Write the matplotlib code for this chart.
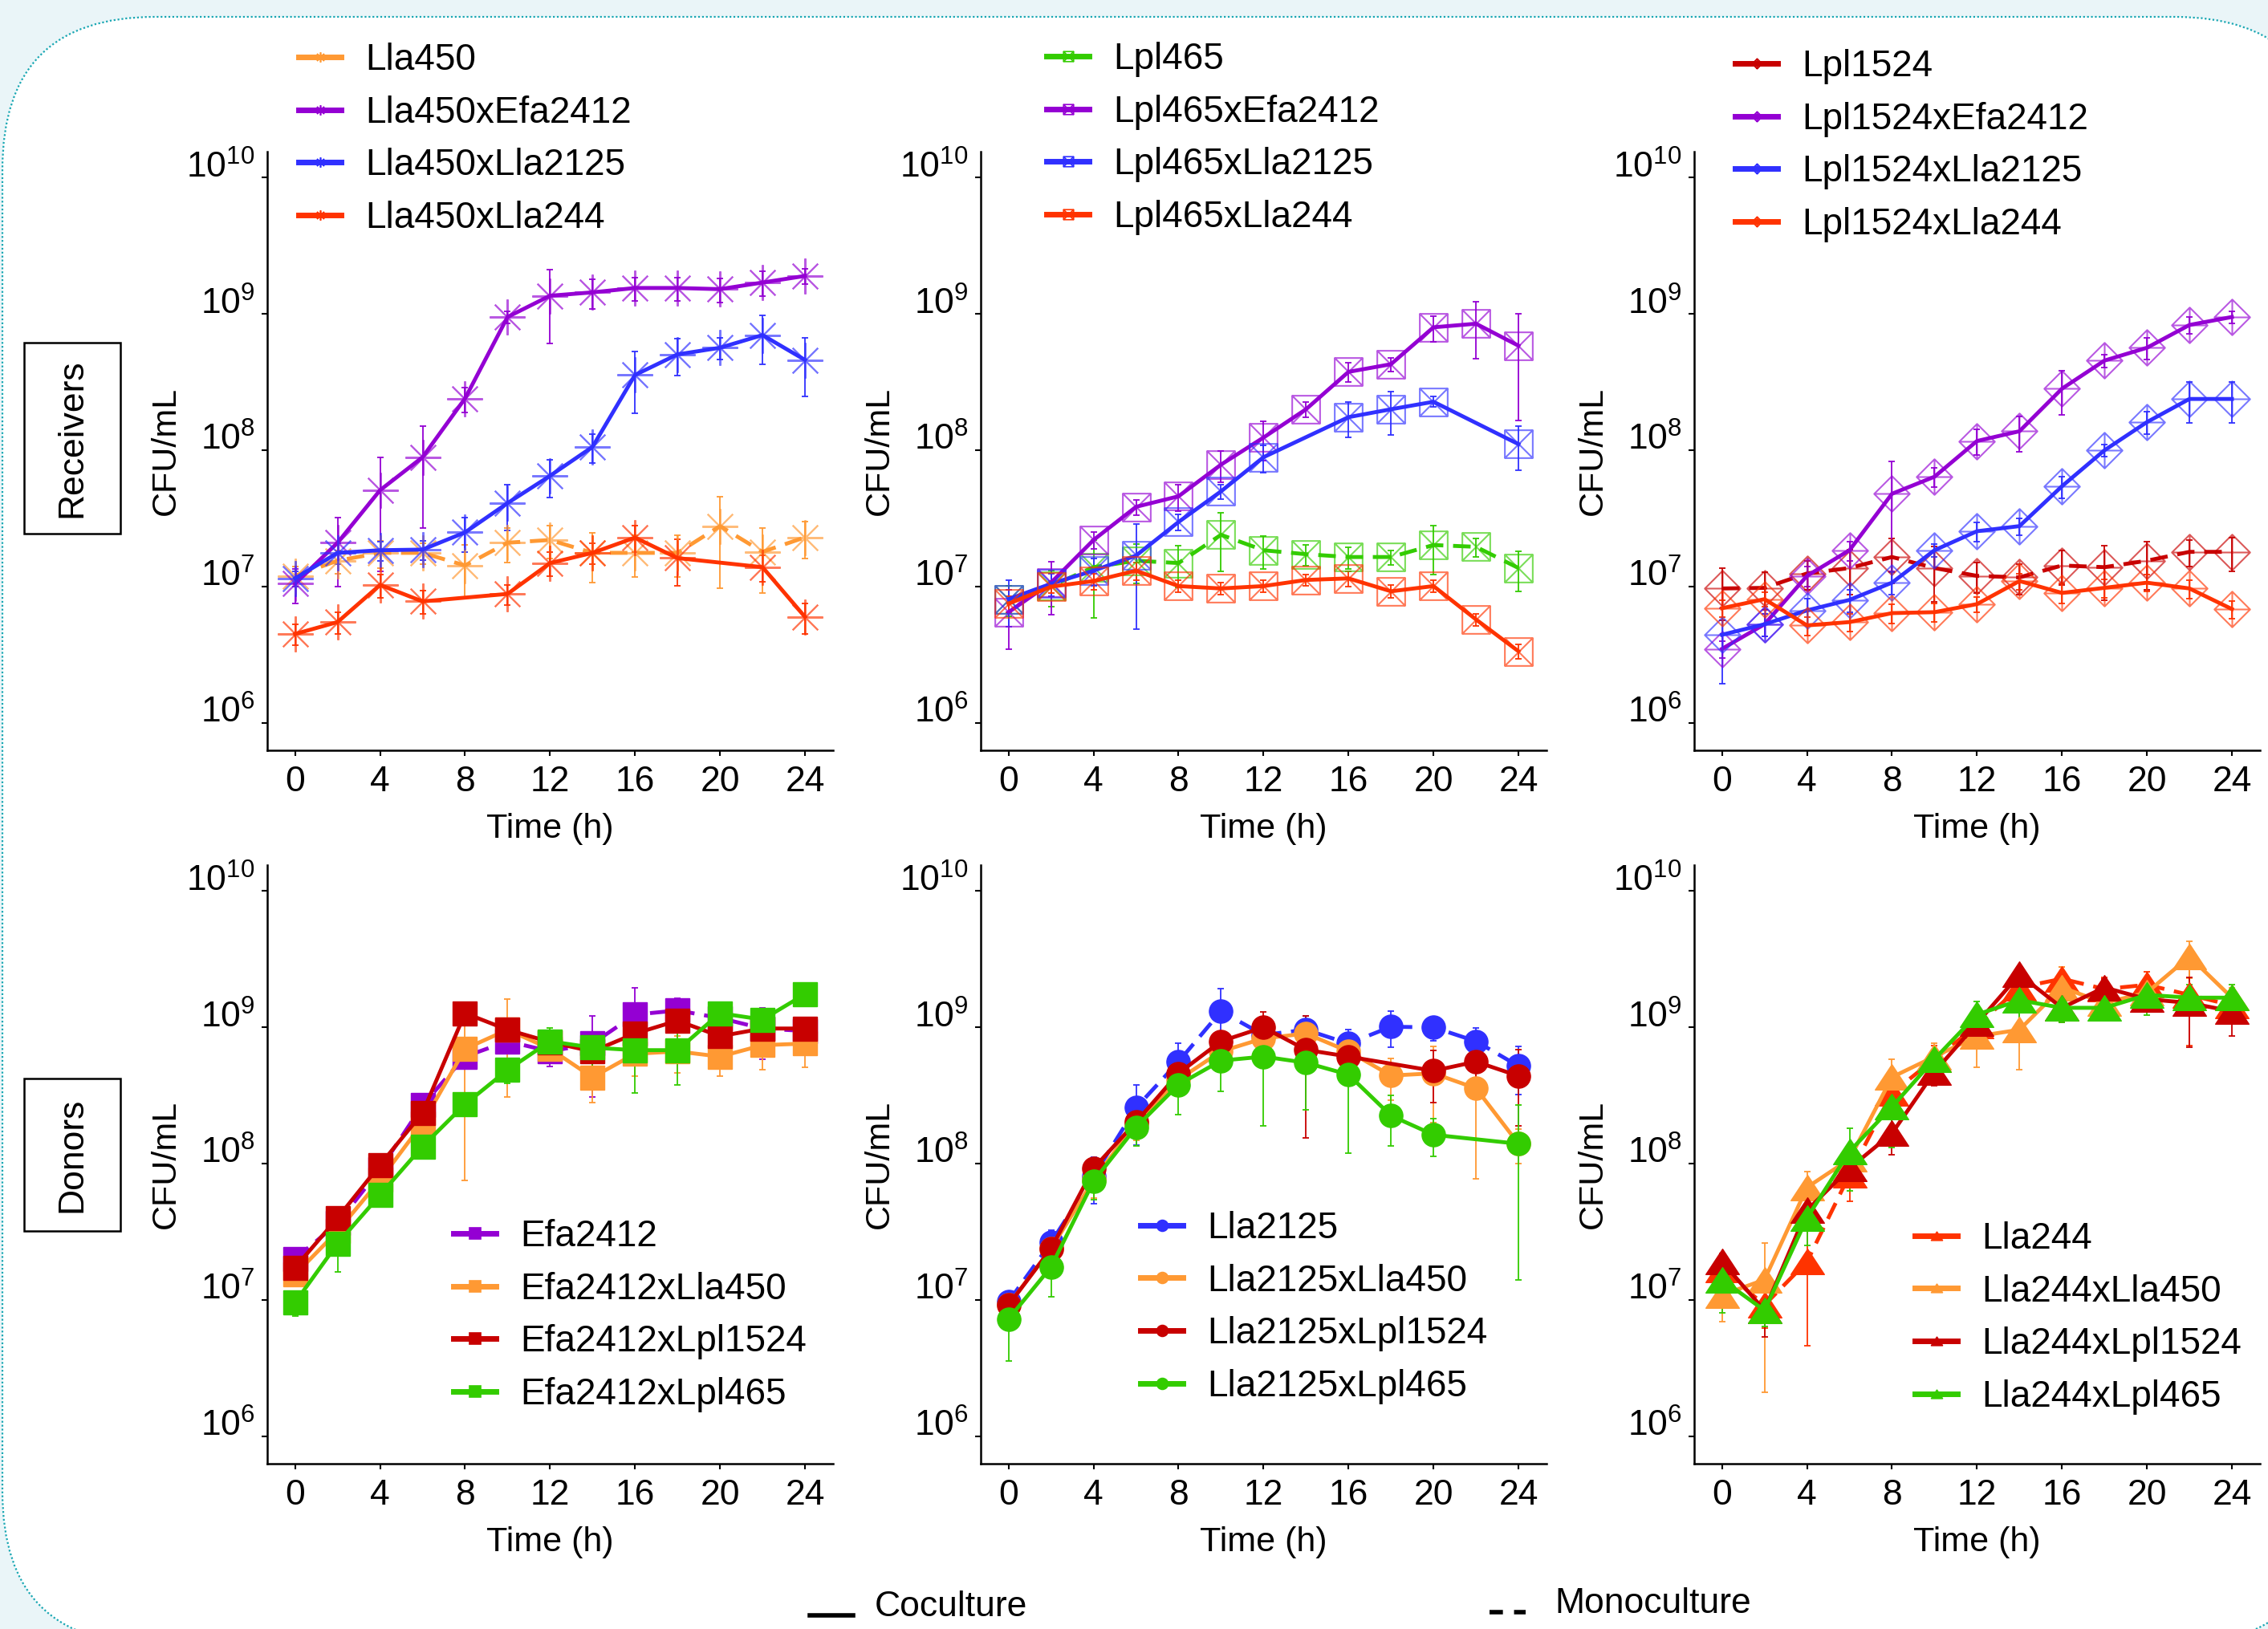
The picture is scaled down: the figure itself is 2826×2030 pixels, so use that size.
#
# Growth curves: receivers (top) and donors (bottom)
#
import numpy as np
import matplotlib
matplotlib.use("Agg")
import matplotlib.pyplot as plt
from matplotlib.path import Path
from matplotlib.lines import Line2D
from matplotlib.patches import FancyBboxPatch, Rectangle
from matplotlib.transforms import IdentityTransform
from matplotlib.colors import to_rgba
from matplotlib.ticker import NullLocator

plt.rcParams['font.family'] = ['Liberation Sans', 'DejaVu Sans']
plt.rcParams['mathtext.fontset'] = 'custom'
plt.rcParams['mathtext.rm'] = 'Liberation Sans'
plt.rcParams['mathtext.it'] = 'Liberation Sans:italic'
plt.rcParams['mathtext.bf'] = 'Liberation Sans:bold'

nan = np.nan

#===================
# Data (CFU/mL, mean and sd)
#===================
time_h = [0, 2, 4, 6, 8, 10, 12, 14, 16, 18, 20, 22, 24]
x_ticks = [0, 4, 8, 12, 16, 20, 24]
y_ticks = [1e6, 1e7, 1e8, 1e9, 1e10]
y_labels = [r'$10^{6}$', r'$10^{7}$', r'$10^{8}$', r'$10^{9}$', r'$10^{10}$']

# receivers: Lla450
lla450 = [1.2e7, 1.55e7, 1.77e7, 1.77e7, 1.43e7, 2.1e7, 2.2e7, 1.77e7, 1.77e7, 1.77e7, 2.78e7, 1.8e7, 2.3e7]
lla450_sd = [2e6, 3e6, 4e6, 3e6, 6e6, 6e6, 6e6, 7e6, 6e6, 6e6, 1.8e7, 9e6, 7e6]
lla450_efa2412 = [1.05e7, 2.1e7, 5.1e7, 8.9e7, 2.4e8, 9.5e8, 1.36e9, 1.44e9, 1.55e9, 1.55e9, 1.52e9, 1.7e9, 1.9e9]
lla450_efa2412_sd = [3e6, 1.1e7, 3.8e7, 6.2e7, 5e7, 1e8, 7.5e8, 3.5e8, 3e8, 3e8, 3e8, 3.5e8, 2.5e8]
lla450_lla2125 = [1.15e7, 1.77e7, 1.85e7, 1.87e7, 2.5e7, 4.1e7, 6.5e7, 1.06e8, 3.57e8, 5.05e8, 5.65e8, 7.0e8, 4.6e8]
lla450_lla2125_sd = [1.5e6, 3e6, 3e6, 3e6, 7e6, 1.5e7, 2e7, 2.5e7, 1.7e8, 1.5e8, 1e8, 2.7e8, 2.1e8]
lla450_lla244 = [4.5e6, 5.5e6, 1.03e7, 7.8e6, nan, 8.85e6, 1.49e7, 1.77e7, 2.29e7, 1.62e7, nan, 1.39e7, 6.0e6]
lla450_lla244_sd = [8e5, 1e6, 2e6, 1.5e6, nan, 1.5e6, 3e6, 3e6, 5e6, 6e6, nan, 3e6, 1.5e6]

# receivers: Lpl465
lpl465 = [8.1e6, 1.01e7, 1.39e7, 1.55e7, 1.49e7, 2.4e7, 1.85e7, 1.73e7, 1.65e7, 1.65e7, 2.02e7, 1.96e7, 1.37e7]
lpl465_sd = [2e6, 3e6, 8e6, 5e6, 5e6, 1.1e7, 5e6, 3e6, 3e6, 2e6, 8e6, 3e6, 4.5e6]
lpl465_efa2412 = [6.5e6, 1.07e7, 2.2e7, 3.85e7, 4.6e7, 7.85e7, 1.24e8, 2.0e8, 3.76e8, 4.28e8, 7.98e8, 8.48e8, 5.85e8]
lpl465_efa2412_sd = [3e6, 4.5e6, 3e6, 5e6, 1e7, 2e7, 4e7, 2.5e7, 6e7, 5e7, 1.7e8, 3.8e8, 4.2e8]
lpl465_lla2125 = [8.1e6, 1.05e7, 1.31e7, 1.69e7, 2.98e7, 5.0e7, 8.9e7, nan, 1.75e8, 2.0e8, 2.27e8, nan, 1.11e8]
lpl465_lla2125_sd = [3e6, 2e6, 3e6, 1.2e7, 4e6, 6e6, 2e7, nan, 5e7, 7e7, 2e7, nan, 4e7]
lpl465_lla244 = [7.5e6, 1.0e7, 1.1e7, 1.31e7, 1.01e7, 9.7e6, 1.01e7, 1.12e7, 1.15e7, 9.25e6, 1.01e7, 5.75e6, 3.36e6]
lpl465_lla244_sd = [1e6, 1e6, 1.5e6, 2e6, 1e6, 1e6, 1e6, 1e6, 1.5e6, 1e6, 1e6, 6e5, 4e5]

# receivers: Lpl1524
lpl1524 = [9.7e6, 9.8e6, 1.25e7, 1.37e7, 1.65e7, 1.37e7, 1.2e7, 1.17e7, 1.43e7, 1.39e7, 1.55e7, 1.8e7, 1.8e7]
lpl1524_sd = [4e6, 3e6, 3e6, 5e6, 6e6, 6e6, 3e6, 3e6, 4e6, 6e6, 6e6, 4e6, 5e6]
lpl1524_efa2412 = [3.5e6, 5.3e6, 1.2e7, 1.85e7, 4.8e7, 6.4e7, 1.17e8, 1.38e8, 2.83e8, 4.55e8, 5.65e8, 8.3e8, 9.5e8]
lpl1524_efa2412_sd = [5e5, 1e6, 2e6, 3e6, 3.5e7, 1e7, 2.5e7, 4e7, 1e8, 5e7, 1e8, 1.2e8, 1e8]
lpl1524_lla2125 = [4.44e6, 5.3e6, 6.7e6, 8.0e6, 1.07e7, 1.85e7, 2.55e7, 2.78e7, 5.45e7, 1.0e8, 1.61e8, 2.38e8, 2.38e8]
lpl1524_lla2125_sd = [2.5e6, 1e6, 1.5e6, 1.5e6, 2e6, 2e6, 4e6, 4e6, 1e7, 1e7, 3e7, 8e7, 8e7]
lpl1524_lla244 = [6.95e6, 8.1e6, 5.2e6, 5.5e6, 6.4e6, 6.5e6, 7.45e6, 1.1e7, 9.0e6, 9.8e6, 1.07e7, 9.7e6, 6.85e6]
lpl1524_lla244_sd = [1e6, 1e6, 8e5, 8e5, 1e6, 1e6, 1e6, 1.5e6, 1.5e6, 1.5e6, 1.5e6, 1.5e6, 1e6]

# donors: Efa2412
efa2412 = [2.0e7, 3.66e7, 9.1e7, 2.69e8, 6.1e8, 7.9e8, 6.66e8, 7.6e8, 1.24e9, 1.33e9, 1.17e9, 9.8e8, 9.4e8]
efa2412_sd = [2e6, 5e6, 1e7, 4e7, 1e8, 1.5e8, 1.5e8, 4.5e8, 7e8, 3e8, 2e8, 4e8, 2e8]
efa2412_lla450 = [1.54e7, 3.2e7, 7.6e7, 1.98e8, 6.95e8, 9.6e8, 6.95e8, 4.3e8, 6.4e8, 6.66e8, 6.1e8, 7.4e8, 7.6e8]
efa2412_lla450_sd = [2e6, 5e6, 1e7, 3e7, 6.2e8, 6.5e8, 1.2e8, 1.5e8, 2e8, 2e8, 1.7e8, 2.5e8, 2.5e8]
efa2412_lpl1524 = [1.73e7, 4.0e7, 9.8e7, 2.36e8, 1.27e9, 9.6e8, 7.8e8, 6.66e8, 9.0e8, 1.12e9, 8.6e8, 9.8e8, 9.8e8]
efa2412_lpl1524_sd = [2e6, 5e6, 1e7, 3e7, 1e8, 1e8, 1e8, 1.5e8, 2e8, 1.5e8, 2.5e8, 2e8, 2e8]
efa2412_lpl465 = [9.6e6, 2.6e7, 5.9e7, 1.34e8, 2.73e8, 4.87e8, 7.9e8, 7.1e8, 6.8e8, 6.8e8, 1.27e9, 1.14e9, 1.75e9]
efa2412_lpl465_sd = [2e6, 1e7, 1e7, 2e7, 5e7, 1e8, 2e8, 2e8, 3.5e8, 3e8, 2e8, 2e8, 2e8]

# donors: Lla2125
lla2125 = [9.75e6, 2.64e7, 8.1e7, 2.57e8, 5.6e8, 1.31e9, 8.8e8, 9.6e8, 7.6e8, 1.01e9, 1.0e9, 7.9e8, 5.2e8]
lla2125_sd = [1e6, 6e6, 3e7, 1.2e8, 2e8, 6e8, 2e8, 2.5e8, 2e8, 3e8, 2e8, 2e8, 2e8]
lla2125_lla450 = [9.2e6, 2.38e7, 7.6e7, 1.98e8, 4.14e8, 6.66e8, 8.3e8, 9.0e8, 6.66e8, 4.43e8, 4.6e8, 3.57e8, 1.4e8]
lla2125_lla450_sd = [1e6, 5e6, 2e7, 5e7, 1e8, 1.5e8, 1.5e8, 2e8, 2e8, 1.5e8, 2.6e8, 2.8e8, 4e7]
lla2125_lpl1524 = [9.2e6, 2.38e7, 9.25e7, 2.02e8, 4.6e8, 7.9e8, 1.0e9, 6.84e8, 6.1e8, nan, 4.8e8, 5.6e8, 4.4e8]
lla2125_lpl1524_sd = [1e6, 6e6, 1.5e7, 4e7, 1e8, 1.5e8, 3e8, 5.3e8, 1e8, nan, 2e8, 1.8e8, 2.5e8]
lla2125_lpl465 = [7.26e6, 1.75e7, 7.45e7, 1.85e8, 3.8e8, 5.7e8, 6.1e8, 5.5e8, 4.5e8, 2.25e8, 1.63e8, nan, 1.4e8]
lla2125_lpl465_sd = [3.7e6, 7e6, 2e7, 5e7, 1.5e8, 2.3e8, 4.2e8, 3e8, 3.3e8, 9e7, 5e7, nan, 1.3e8]

# donors: Lla244
lla244 = [1.68e7, 9.2e6, 1.91e7, 8.3e7, 3.3e8, 5.85e8, 1.03e9, 1.96e9, 2.27e9, 1.91e9, 2.05e9, 1.73e9, 1.45e9]
lla244_sd = [4e6, 3e6, 1.45e7, 3e7, 1e8, 1.5e8, 3e8, 4e8, 5e8, 4e8, 5e8, 1.0e9, 3e8]
lla244_lla450 = [1.09e7, 1.41e7, 6.7e7, 1.08e8, 4.31e8, 6.1e8, 8.6e8, 9.6e8, 1.96e9, 1.51e9, 1.8e9, 3.3e9, 1.65e9]
lla244_lla450_sd = [4e6, 1.2e7, 2e7, 3e7, 1.5e8, 1.5e8, 3.5e8, 4.7e8, 8e8, 3e8, 3e8, 1e9, 3e8]
lla244_lpl1524 = [1.91e7, 8.4e6, 4.55e7, 9.25e7, 1.67e8, 4.71e8, 1.07e9, 2.44e9, 1.39e9, 1.96e9, 1.61e9, 1.51e9, 1.31e9]
lla244_lpl1524_sd = [3e6, 3e6, 1e7, 2e7, 5e7, 1e8, 2e8, 3e8, 3e8, 3e8, 3e8, 8e8, 4.5e8]
lla244_lpl465 = [1.41e7, 8.4e6, 4.0e7, 1.23e8, 2.61e8, 5.85e8, 1.24e9, 1.58e9, 1.39e9, 1.39e9, 1.73e9, 1.65e9, 1.65e9]
lla244_lpl465_sd = [6e6, 2e6, 1.5e7, 6e7, 1.3e8, 1e8, 3e8, 5e8, 3e8, 2.5e8, 5e8, 4e8, 4e8]

#===================
# Colours and markers
#===================
orange = '#FF9933'
purple = '#9400D3'
blue = '#3030FF'
red = '#FF3300'
green = '#33CC00'
darkred = '#C80000'

M, L, C = Path.MOVETO, Path.LINETO, Path.CLOSEPOLY
square_x = Path([(-1, -1), (1, -1), (1, 1), (-1, 1), (-1, -1), (-1, -1), (1, 1), (-1, 1), (1, -1)],
                [M, L, L, L, C, M, L, M, L])
diamond_plus = Path([(0, 1), (1, 0), (0, -1), (-1, 0), (0, 1), (-1, 0), (1, 0), (0, -1), (0, 1)],
                    [M, L, L, L, C, M, L, M, L])
triangle = Path([(-1, -0.76), (1, -0.76), (0, 0.76), (-1, -0.76)], [M, L, L, C])
asterisk = (8, 2, 0)

panels = [
    # row, col, marker, size, filled, legend corner (px), series
    (0, 0, asterisk, 32, False, (372, 53), [
        ('Lla450', lla450, lla450_sd, orange, True),
        ('Lla450xEfa2412', lla450_efa2412, lla450_efa2412_sd, purple, False),
        ('Lla450xLla2125', lla450_lla2125, lla450_lla2125_sd, blue, False),
        ('Lla450xLla244', lla450_lla244, lla450_lla244_sd, red, False)]),
    (0, 1, square_x, 25, False, (1304, 52), [
        ('Lpl465', lpl465, lpl465_sd, green, True),
        ('Lpl465xEfa2412', lpl465_efa2412, lpl465_efa2412_sd, purple, False),
        ('Lpl465xLla2125', lpl465_lla2125, lpl465_lla2125_sd, blue, False),
        ('Lpl465xLla244', lpl465_lla244, lpl465_lla244_sd, red, False)]),
    (0, 2, diamond_plus, 32, False, (2162, 61), [
        ('Lpl1524', lpl1524, lpl1524_sd, darkred, True),
        ('Lpl1524xEfa2412', lpl1524_efa2412, lpl1524_efa2412_sd, purple, False),
        ('Lpl1524xLla2125', lpl1524_lla2125, lpl1524_lla2125_sd, blue, False),
        ('Lpl1524xLla244', lpl1524_lla244, lpl1524_lla244_sd, red, False)]),
    (1, 0, 's', 21, True, (565, 1519), [
        ('Efa2412', efa2412, efa2412_sd, purple, True),
        ('Efa2412xLla450', efa2412_lla450, efa2412_lla450_sd, orange, False),
        ('Efa2412xLpl1524', efa2412_lpl1524, efa2412_lpl1524_sd, darkred, False),
        ('Efa2412xLpl465', efa2412_lpl465, efa2412_lpl465_sd, green, False)]),
    (1, 1, 'o', 21, True, (1421, 1509), [
        ('Lla2125', lla2125, lla2125_sd, blue, True),
        ('Lla2125xLla450', lla2125_lla450, lla2125_lla450_sd, orange, False),
        ('Lla2125xLpl1524', lla2125_lpl1524, lla2125_lpl1524_sd, darkred, False),
        ('Lla2125xLpl465', lla2125_lpl465, lla2125_lpl465_sd, green, False)]),
    (1, 2, triangle, 30, True, (2386, 1522), [
        ('Lla244', lla244, lla244_sd, red, True),
        ('Lla244xLla450', lla244_lla450, lla244_lla450_sd, orange, False),
        ('Lla244xLpl1524', lla244_lpl1524, lla244_lpl1524_sd, darkred, False),
        ('Lla244xLpl465', lla244_lpl465, lla244_lpl465_sd, green, False)]),
]

#===================
# Figure
#===================
W, H = 2826, 2030
fig = plt.figure(figsize=(W / 100, H / 100), dpi=100)
fig.patch.set_facecolor('#EAF5F8')

# rounded white card with dotted border
card = FancyBboxPatch((3, H - 2049), 2897, 2028, boxstyle='round,pad=0,rounding_size=190',
                      transform=IdentityTransform(), facecolor='white', edgecolor='#19A7B3',
                      linewidth=1.6, linestyle=(0, (1, 1.2)), zorder=-1)
fig.add_artist(card)

col_left = [333, 1222, 2111]
row_top = [189, 1078]
ax_w, ax_h = 705, 746
dash = (0, (4.5, 2.5))

for row, col, mk, ms, filled, leg_xy, series in panels:
    l, t = col_left[col], row_top[row]
    ax = fig.add_axes([l / W, 1 - (t + ax_h) / H, ax_w / W, ax_h / H])
    ax.set_facecolor('none')
    handles = []
    for name, vals, sd, colour, mono in series:
        x = np.array(time_h, dtype=float)
        y = np.array(vals, dtype=float)
        s = np.array(sd, dtype=float)
        ok = ~np.isnan(y)
        x, y, s = x[ok], y[ok], s[ok]
        lo = np.minimum(s, 0.9 * y)
        ax.errorbar(x, y, yerr=[lo, s], fmt='none', ecolor=colour, elinewidth=1.3,
                    capsize=3, capthick=1.3, zorder=2)
        if filled:
            mec, mfc, mew = colour, colour, 1.0
        else:
            mec, mfc, mew = to_rgba(colour, 0.65), 'none', 1.5
        ax.plot(x, y, color=colour, lw=3.5, ls=dash if mono else '-', marker=mk, ms=ms,
                mec=mec, mfc=mfc, mew=mew, zorder=3)
        handles.append(Line2D([], [], color=colour, lw=5, marker=mk, ms=9 if not filled else 10,
                              mec=colour, mfc=mfc if not filled else colour, mew=1.2))
    ax.set_yscale('log')
    ax.set_ylim(10 ** 5.8, 10 ** 10.19)
    ax.set_xlim(-1.31, 25.32)
    ax.set_xticks(x_ticks)
    ax.set_yticks(y_ticks)
    ax.set_yticklabels(y_labels)
    ax.yaxis.set_minor_locator(NullLocator())
    for lab in ax.get_yticklabels():
        lab.set_verticalalignment('baseline')
    for side in ['top', 'right']:
        ax.spines[side].set_visible(False)
    for side in ['left', 'bottom']:
        ax.spines[side].set_linewidth(1.8)
    ax.tick_params(axis='both', length=5, width=1.5, labelsize=32)
    ax.tick_params(axis='x', pad=9)
    ax.tick_params(axis='y', pad=6)
    ax.legend(handles, [s[0] for s in series], loc='upper left',
              bbox_to_anchor=(leg_xy[0] / W, 1 - leg_xy[1] / H), bbox_transform=fig.transFigure,
              frameon=False, fontsize=33, handlelength=1.16, handletextpad=0.65,
              labelspacing=0.47, borderpad=0, borderaxespad=0)
    # axis titles
    fig.text((l - 126) / W, 1 - (t + ax_h / 2) / H, 'CFU/mL', rotation=90,
             ha='center', va='center', fontsize=31)
    fig.text((l + ax_w / 2) / W, 1 - (t + ax_h + 98) / H, 'Time (h)',
             ha='center', va='center', fontsize=31)

# row labels
for label, top, bottom in [('Receivers', 427, 665), ('Donors', 1344, 1534)]:
    fig.add_artist(Rectangle((29.5 / W, 1 - bottom / H), 120 / W, (bottom - top) / H,
                             transform=fig.transFigure, facecolor='white',
                             edgecolor='black', linewidth=1.8))
    fig.text(89.5 / W, 1 - (top + bottom) / 2 / H, label, rotation=90,
             ha='center', va='center', fontsize=32)

# line style key
fig.add_artist(Line2D([1009 / W, 1063 / W], [1 - 2013 / H, 1 - 2013 / H],
                      transform=fig.transFigure, color='black', lw=4))
fig.text(1090 / W, 1 - 2002 / H, 'Coculture', ha='left', va='center', fontsize=32)
fig.add_artist(Line2D([1856 / W, 1901 / W], [1 - 2009 / H, 1 - 2009 / H],
                      transform=fig.transFigure, color='black', lw=4, ls=(0, (3, 2.5))))
fig.text(1937 / W, 1 - 1998 / H, 'Monoculture', ha='left', va='center', fontsize=32)

fig.savefig('out.png', dpi=100, facecolor=fig.get_facecolor())
